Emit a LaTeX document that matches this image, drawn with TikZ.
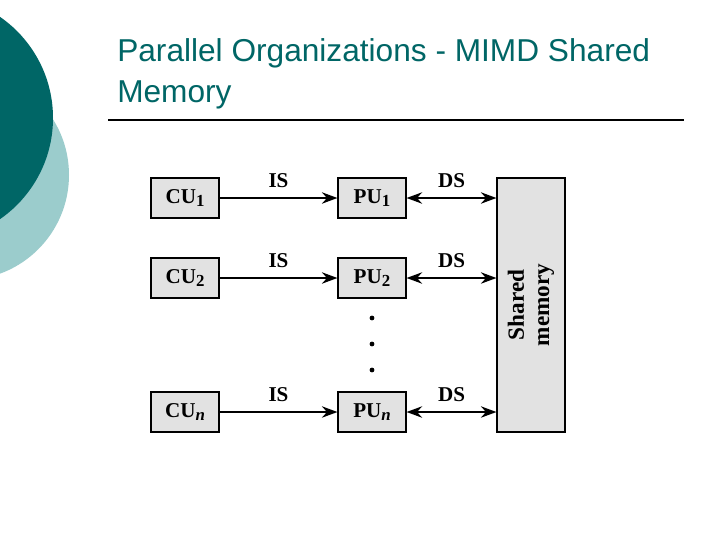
\documentclass[tikz,border=0pt]{standalone}
\usepackage{fontspec}
\setmainfont{Liberation Serif}
\newfontfamily\titlefont{Liberation Sans}
\usetikzlibrary{arrows.meta}
\definecolor{darkteal}{RGB}{0,102,102}
\definecolor{lightteal}{RGB}{155,204,204}
\definecolor{boxgray}{RGB}{226,226,226}
\newcommand{\unitsub}[1]{\raisebox{-0.35ex}{\fontsize{12pt}{12pt}\selectfont #1}}
\tikzset{
  unitbox/.style={draw, line width=1.3pt, fill=boxgray, minimum width=1.68cm, minimum height=0.98cm, inner sep=0pt, font=\fontsize{15pt}{17pt}\selectfont\bfseries},
  sig/.style={font=\fontsize{15pt}{17pt}\selectfont\bfseries},
  link/.style={line width=1.8pt, -{Stealth[length=11pt,width=8pt]}},
  dlink/.style={line width=1.8pt, {Stealth[length=11pt,width=8pt]}-{Stealth[length=11pt,width=8pt]}}
}
\begin{document}
\begin{tikzpicture}[x=0.025cm,y=-0.025cm]
	\useasboundingbox[fill=white] (0,0) rectangle (720,540);
	% background circles
	\fill[lightteal] (-36,175) circle (105);
	\fill[darkteal] (-70,118) circle (123);
	% title
	\node[anchor=base west, inner sep=0pt, text=darkteal, font=\titlefont\fontsize{22.5pt}{28.5pt}\selectfont, align=left] (title) at (117,102) {Parallel Organizations - MIMD Shared\\Memory};
	\coordinate (ruleL) at (108,120);
	\coordinate (ruleR) at (684,120);
	\draw[line width=1.4pt] (ruleL) -- (ruleR);
	% units
	\node[unitbox] (cu1) at (185,198) {CU\unitsub{1}};
	\node[unitbox] (pu1) at (372,198) {PU\unitsub{1}};
	\node[unitbox] (cu2) at (185,278) {CU\unitsub{2}};
	\node[unitbox] (pu2) at (372,278) {PU\unitsub{2}};
	\node[unitbox] (cun) at (185,412) {CU\unitsub{\itshape n}};
	\node[unitbox] (pun) at (372,412) {PU\unitsub{\itshape n}};
	\node[draw, line width=1.3pt, fill=boxgray, minimum width=1.68cm, minimum height=6.35cm, inner sep=0pt] (mem) at (531,305) {};
	\node[rotate=90, align=center, font=\fontsize{16.5pt}{18pt}\selectfont\bfseries] (memtext) at (mem.center) {Shared\\memory};
	% dots
	\foreach \y in {318,344,370}
		\fill (372,\y) circle (2.4);
	% connectors
	\draw[link] (cu1) -- node[sig, above=3pt] (is1) {IS} (pu1);
	\draw[link] (cu2) -- node[sig, above=3pt] (is2) {IS} (pu2);
	\draw[link] (cun) -- node[sig, above=3pt] (isn) {IS} (pun);
	\draw[dlink] (pu1) -- node[sig, above=3pt] (ds1) {DS} (pu1 -| mem.west);
	\draw[dlink] (pu2) -- node[sig, above=3pt] (ds2) {DS} (pu2 -| mem.west);
	\draw[dlink] (pun) -- node[sig, above=3pt] (dsn) {DS} (pun -| mem.west);
\end{tikzpicture}
\end{document}
